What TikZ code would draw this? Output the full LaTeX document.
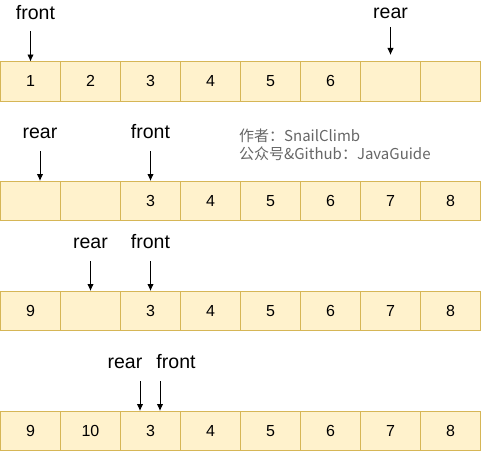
\documentclass[tikz,border=0pt]{standalone}
\usepackage{fontspec}
\setmainfont{Liberation Sans}
\newfontfamily\cjkfont{Noto Sans CJK SC}
\usepackage{tikz}
\usetikzlibrary{positioning, arrows, arrows.meta}

\definecolor{cellfill}{HTML}{FFF2CC}
\definecolor{celldraw}{HTML}{D6B656}
\definecolor{notegray}{HTML}{666666}

\tikzset{
  cell/.style={draw=celldraw, fill=cellfill, line width=1pt, minimum
    width=60pt, minimum height=39.5pt, inner sep=0pt, outer sep=0pt,
    anchor=north west, font=\fontsize{16}{19}\selectfont},
  ptr/.style={inner sep=0pt, text height=14pt, text depth=0pt,
    font=\fontsize{19.5}{22}\selectfont},
  ptrarrow/.style={-{Latex[length=7pt, width=6.5pt]}, line width=0.9pt},
}

\begin{document}
\begin{tikzpicture}[x=1pt, y=-1pt]
    \useasboundingbox (0,0) rectangle (481,452);%

    % Queue 1
    \foreach \v [count=\i] in {1,2,3,4,5,6,{},{}}
      \node [cell] (qa\i) at ({(\i-1)*60+0.5},61.5) {\v};%
    \coordinate (qa_front) at ([yshift=30pt]qa1.north);%
    \node [ptr, above=12pt of qa_front, xshift=5pt] (FrontA) {front};%
    \coordinate (qa_rear_end) at ([yshift=6.5pt]qa7.north);%
    \coordinate (qa_rear) at ([yshift=28pt]qa_rear_end);%
    \node [ptr, above=8pt of qa_rear] (RearA) {rear};%

    % Queue 2
    \foreach \v [count=\i] in {{},{},3,4,5,6,7,8}
      \node [cell] (qb\i) at ({(\i-1)*60+0.5},181) {\v};%
    \coordinate (qb_rear_end) at ([xshift=9.5pt]qb1.north);%
    \coordinate (qb_rear) at ([yshift=30pt]qb_rear_end);%
    \node [ptr, above=12pt of qb_rear] (RearB) {rear};%
    \coordinate (qb_front) at ([yshift=30pt]qb3.north);%
    \node [ptr, above=12pt of qb_front] (FrontB) {front};%

    % -- note
    \node [anchor=west, align=left, inner sep=0pt, text=notegray,
    font=\cjkfont\fontsize{15}{18}\selectfont] (Note) at (239,145)
    {作者：SnailClimb\\公众号\&Github：JavaGuide};%

    % Queue 3
    \foreach \v [count=\i] in {9,{},3,4,5,6,7,8}
      \node [cell] (qc\i) at ({(\i-1)*60+0.5},291) {\v};%
    \coordinate (qc_rear) at ([yshift=30pt]qc2.north);%
    \node [ptr, above=12pt of qc_rear] (RearC) {rear};%
    \coordinate (qc_front) at ([yshift=30pt]qc3.north);%
    \node [ptr, above=12pt of qc_front] (FrontC) {front};%

    % Queue 4
    \foreach \v [count=\i] in {9,10,3,4,5,6,7,8}
      \node [cell] (qd\i) at ({(\i-1)*60+0.5},411) {\v};%
    \coordinate (qd_rear_end) at ([xshift=-10.5pt]qd3.north);%
    \coordinate (qd_rear) at ([yshift=30pt]qd_rear_end);%
    \node [ptr, above=12pt of qd_rear, xshift=-15pt] (RearD) {rear};%
    \coordinate (qd_front_end) at ([xshift=9.5pt]qd3.north);%
    \coordinate (qd_front) at ([yshift=30pt]qd_front_end);%
    \node [ptr, above=12pt of qd_front, xshift=16pt] (FrontD) {front};%

    % arrows
    \draw [ptrarrow] (qa_front) -- (qa1.north);%
    \draw [ptrarrow] (qa_rear) -- (qa_rear_end);%
    \draw [ptrarrow] (qb_rear) -- (qb_rear_end);%
    \draw [ptrarrow] (qb_front) -- (qb3.north);%
    \draw [ptrarrow] (qc_rear) -- (qc2.north);%
    \draw [ptrarrow] (qc_front) -- (qc3.north);%
    \draw [ptrarrow] (qd_rear) -- (qd_rear_end);%
    \draw [ptrarrow] (qd_front) -- (qd_front_end);
  \end{tikzpicture}
\end{document}
